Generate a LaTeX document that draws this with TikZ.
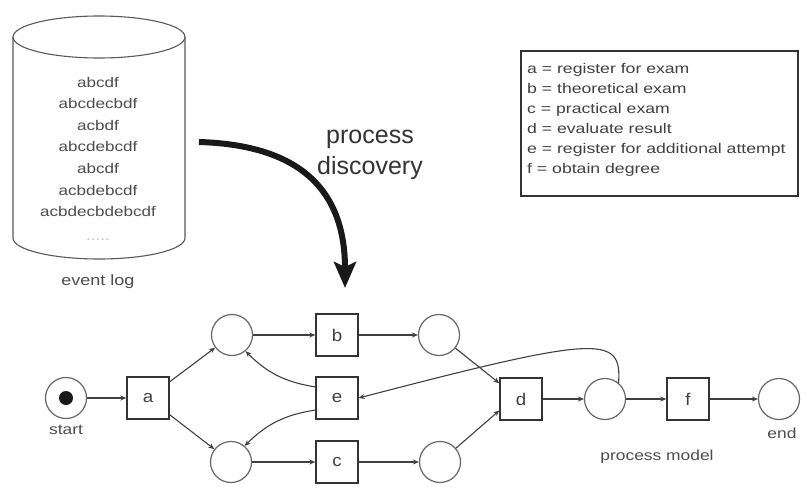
\documentclass[tikz,border=0pt]{standalone}
\usepackage{fontspec}
\setmainfont{Liberation Sans}
\newfontfamily\legendfont[FakeStretch=1.26]{Liberation Sans}
\newfontfamily\logfont[FakeStretch=1.22]{Liberation Sans}
\newfontfamily\labelfont[FakeStretch=1.2]{Liberation Sans}
\newfontfamily\transfont[FakeStretch=1.1]{Liberation Sans}
\usetikzlibrary{arrows.meta}

\begin{document}
\begin{tikzpicture}[x=1pt,y=-1pt,
  place/.style={circle,draw=black!60,line width=1.2pt,minimum size=41pt,inner sep=0pt},
  trans/.style={rectangle,draw=black!80,line width=1.4pt,minimum size=42pt,inner sep=0pt,
    font=\transfont\fontsize{17}{17}\selectfont,text=black!75},
  arc/.style={draw=black!75,line width=1.1pt,-{Stealth[length=6pt,width=5pt]}},
  lbl/.style={font=\labelfont\fontsize{14.5}{14.5}\selectfont,text=black!70,inner sep=0pt},
  logline/.style={font=\logfont\fontsize{14}{14}\selectfont,text=black!70,inner sep=0pt,anchor=base},
  legline/.style={font=\legendfont\fontsize{14}{14}\selectfont,text=black!75,inner sep=0pt,anchor=base west},
]
\useasboundingbox (0,0) rectangle (809,498);

% event log drawn as a cylinder
\draw[black!65,line width=1.1pt] (99,37) ellipse[x radius=86,y radius=21];
\draw[black!65,line width=1.1pt] (13,37) -- (13,238)
  .. controls (13,249.6) and (51.5,259) .. (99,259)
  .. controls (146.5,259) and (185,249.6) .. (185,238) -- (185,37);
\foreach \t [count=\i] in {abcdf,abcdecbdf,acbdf,abcdebcdf,abcdf,acbdebcdf,acbdecbdebcdf}
  \node[logline] (log\i) at (98,{87+21.6*(\i-1)}) {\t};
\node[logline,text=black!25] (logmore) at (98,240) {.....};
\node[lbl,font=\labelfont\fontsize{15}{15}\selectfont] (loglbl) at (98,282) {event log};

% legend
\node[draw=black!80,line width=1.8pt,minimum width=277pt,minimum height=145pt,
  inner sep=0pt,anchor=north west] (legend) at (520,50) {};
\foreach \t [count=\i] in {a = register for exam,b = theoretical exam,c = practical exam,
    d = evaluate result,e = register for additional attempt,f = obtain degree}
  \node[legline] (leg\i) at (527,{73+20*(\i-1)}) {\t};

% discovery step
\node[font=\fontsize{25}{25}\selectfont,text=black!80,inner sep=0pt,anchor=base] (pd1) at (370,143) {process};
\node[font=\fontsize{25}{25}\selectfont,text=black!80,inner sep=0pt,anchor=base] (pd2) at (370,174) {discovery};
\coordinate (ds) at (199,142);
\coordinate (dt) at (345,288);
\draw[line width=6pt,black!90,-{Stealth[length=26pt,width=22pt,inset=5pt]}]
  (ds) .. controls (300,145) and (345,190) .. (dt);

% Petri net
\node[place] (start) at (66,398) {};
\node[circle,fill=black!90,minimum size=14pt,inner sep=0pt] (token) at (start) {};
\node[lbl] (startlbl) at (66,430) {start};
\node[trans] (a) at (148,398) {a};
\node[place] (p1) at (232,335) {};
\node[place] (p2) at (231,462) {};
\node[trans] (b) at (337,335) {b};
\node[trans] (e) at (337,398) {e};
\node[trans] (c) at (337,462) {c};
\node[place] (p3) at (439,335) {};
\node[place] (p4) at (440,462) {};
\node[trans] (d) at (521,399) {d};
\node[place] (p5) at (605,399) {};
\node[trans] (f) at (688,399) {f};
\node[place] (pend) at (779,399) {};
\node[lbl] (endlbl) at (782,433) {end};
\node[lbl] (modellbl) at (657,457) {process model};

\draw[arc] (start) -- (a);
\draw[arc] (a) -- (p1);
\draw[arc] (a) -- (p2);
\draw[arc] (p1) -- (b);
\draw[arc] (p2) -- (c);
\draw[arc] (b) -- (p3);
\draw[arc] (c) -- (p4);
\draw[arc] (p3) -- (d.144);
\draw[arc] (p4) -- (d.208);
\draw[arc] (e.153) to[bend left=18] (p1);
\draw[arc] (e.209) to[bend right=18] (p2);
\draw[arc] (d) -- (p5);
\draw[arc] (p5) -- (f);
\draw[arc] (f) -- (pend);
\draw[arc] (p5.50) .. controls (622,335) and (600,335) .. (e.east);
\end{tikzpicture}
\end{document}
